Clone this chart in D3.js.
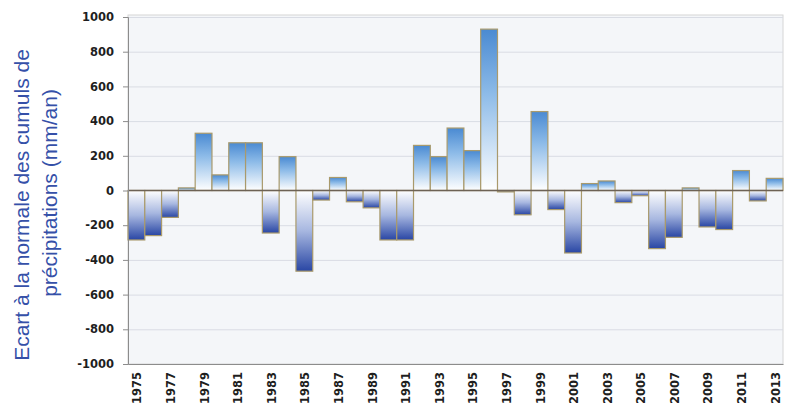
<!DOCTYPE html>
<html>
<head>
<meta charset="utf-8">
<script src="https://cdn.jsdelivr.net/npm/d3@7/dist/d3.min.js"></script>
<style>
  html, body { margin: 0; padding: 0; background: #ffffff; }
  svg { display: block; }
</style>
</head>
<body>
<svg id="chart" width="796" height="414"></svg>
<script>
// Annual precipitation anomaly (mm/yr), 1975–2013
const years = d3.range(1975, 2014);
const anomalies = [
  -285, -260, -155, 15, 330, 90, 275, 275, -245, 195,
  -465, -55, 75, -65, -100, -285, -285, 260, 195, 360,
  230, 930, -8, -140, 455, -110, -360, 40, 55, -70,
  -30, -335, -270, 15, -210, -225, 115, -60, 70
];
const yTicks = [1000, 800, 600, 400, 200, 0, -200, -400, -600, -800, -1000];
const xTickYears = years.filter(y => (y - 1975) % 2 === 0);
const titleLines = ["Ecart à la normale des cumuls de", "précipitations (mm/an)"];

const data = years.map((y, i) => ({ year: y, value: anomalies[i] }));

const svg = d3.select("#chart");
const plotL = 128, plotR = 783, plotT = 17, plotB = 364;

const x = d3.scaleBand().domain(years).range([plotL, plotR]).padding(0);
const y = d3.scaleLinear().domain([-1000, 1000]).range([plotB, plotT]);

// gradients for rising and falling bars
const defs = svg.append("defs");
const gPos = defs.append("linearGradient").attr("id", "gPos")
  .attr("x1", 0).attr("y1", 0).attr("x2", 0).attr("y2", 1);
gPos.append("stop").attr("offset", "0%").attr("stop-color", "#4a8ad2");
gPos.append("stop").attr("offset", "40%").attr("stop-color", "#8dbbe8");
gPos.append("stop").attr("offset", "100%").attr("stop-color", "#ffffff");
const gNeg = defs.append("linearGradient").attr("id", "gNeg")
  .attr("x1", 0).attr("y1", 0).attr("x2", 0).attr("y2", 1);
gNeg.append("stop").attr("offset", "0%").attr("stop-color", "#ffffff");
gNeg.append("stop").attr("offset", "50%").attr("stop-color", "#a7b7e0");
gNeg.append("stop").attr("offset", "100%").attr("stop-color", "#2946a4");

// plot background
svg.append("rect")
  .attr("x", plotL).attr("y", plotT - 2)
  .attr("width", plotR - plotL).attr("height", plotB - plotT + 2)
  .attr("fill", "#f4f6f9")
  .attr("stroke", "#d6d6d6").attr("stroke-width", 1);

// horizontal grid
svg.append("g")
  .selectAll("line")
  .data(yTicks.filter(v => v !== 0 && v !== -1000))
  .join("line")
  .attr("x1", plotL).attr("x2", plotR)
  .attr("y1", d => y(d) + 0.5).attr("y2", d => y(d) + 0.5)
  .attr("stroke", "#d9dce4").attr("stroke-width", 1);

// bars
svg.append("g")
  .selectAll("rect")
  .data(data)
  .join("rect")
  .attr("x", d => x(d.year))
  .attr("width", x.bandwidth())
  .attr("y", d => d.value >= 0 ? y(d.value) : y(0))
  .attr("height", d => Math.abs(y(d.value) - y(0)))
  .attr("fill", d => d.value >= 0 ? "url(#gPos)" : "url(#gNeg)")
  .attr("stroke", "#a99a6c").attr("stroke-width", 1.2);

// zero line
svg.append("line")
  .attr("x1", plotL).attr("x2", plotR)
  .attr("y1", y(0)).attr("y2", y(0))
  .attr("stroke", "#6d6255").attr("stroke-width", 1.5);

// left axis (plain hyphen for negatives)
const yAxis = d3.axisLeft(y).tickValues(yTicks).tickSize(5).tickPadding(9)
  .tickFormat(d => String(d));
const gy = svg.append("g").attr("transform", `translate(${plotL},0)`).call(yAxis);
gy.select(".domain").attr("stroke", "#8c8c8c");
gy.selectAll(".tick line").attr("stroke", "#8c8c8c");
gy.selectAll("text")
  .attr("font-family", "DejaVu Sans, sans-serif")
  .attr("font-weight", "bold")
  .attr("font-size", 11.5)
  .attr("fill", "#1e1e1e");

// bottom axis with vertical year labels
const xAxis = d3.axisBottom(x).tickValues(xTickYears).tickSize(0).tickPadding(8);
const gx = svg.append("g").attr("transform", `translate(0,${plotB})`).call(xAxis);
gx.select(".domain").attr("stroke", "#8c8c8c");
gx.selectAll("text")
  .attr("font-family", "DejaVu Sans, sans-serif")
  .attr("font-weight", "bold")
  .attr("font-size", 11.5)
  .attr("fill", "#1e1e1e")
  .attr("transform", "rotate(-90)")
  .attr("text-anchor", "end")
  .attr("x", -8)
  .attr("y", 1)
  .attr("dy", "0.35em");

// vertical axis title
const titleCenters = [[22, 205], [50, 193]];
titleLines.forEach((t, i) => {
  svg.append("text")
    .attr("transform", `translate(${titleCenters[i][0]},${titleCenters[i][1]}) rotate(-90)`)
    .attr("text-anchor", "middle")
    .attr("dy", "0.35em")
    .attr("font-family", "Liberation Sans, Arial, sans-serif")
    .attr("font-size", 21)
    .attr("fill", "#3550a8")
    .text(t);
});
</script>
</body>
</html>
